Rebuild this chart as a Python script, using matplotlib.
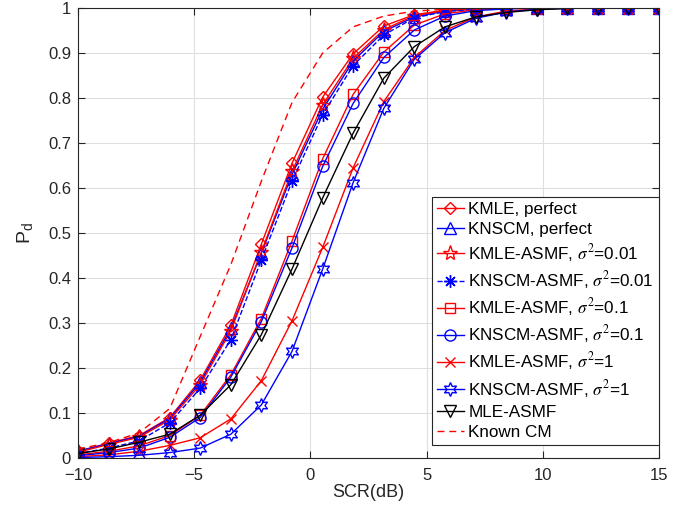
import matplotlib
matplotlib.use("Agg")
import matplotlib.pyplot as plt

plt.rcParams["font.family"] = ["Liberation Sans", "DejaVu Sans"]
plt.rcParams["mathtext.fontset"] = "stix"

# SCR (dB) sample points
scr = [-10, -8.68, -7.37, -6.05, -4.74, -3.42, -2.11, -0.79, 0.53, 1.84,
       3.16, 4.47, 5.79, 7.11, 8.42, 9.74, 11.05, 12.37, 13.68, 15]

kmle_perfect = [0.015, 0.033, 0.05, 0.09, 0.173, 0.295, 0.475, 0.655, 0.802, 0.898,
                0.96, 0.985, 0.995, 0.998, 0.999, 1, 1, 1, 1, 1]
knscm_perfect = [0.015, 0.032, 0.048, 0.088, 0.168, 0.288, 0.455, 0.63, 0.775, 0.882,
                 0.948, 0.98, 0.993, 0.998, 0.999, 1, 1, 1, 1, 1]
kmle_001 = [0.013, 0.03, 0.046, 0.085, 0.163, 0.283, 0.458, 0.637, 0.785, 0.888,
            0.952, 0.983, 0.994, 0.998, 0.999, 1, 1, 1, 1, 1]
knscm_001 = [0.01, 0.022, 0.038, 0.078, 0.155, 0.263, 0.44, 0.615, 0.763, 0.872,
             0.94, 0.978, 0.992, 0.997, 0.999, 1, 1, 1, 1, 1]
kmle_01 = [0.007, 0.015, 0.027, 0.05, 0.095, 0.185, 0.31, 0.482, 0.665, 0.808,
           0.902, 0.962, 0.987, 0.996, 0.999, 1, 1, 1, 1, 1]
knscm_01 = [0.005, 0.012, 0.022, 0.046, 0.09, 0.18, 0.303, 0.467, 0.648, 0.788,
            0.89, 0.951, 0.982, 0.994, 0.998, 1, 1, 1, 1, 1]
kmle_1 = [0.003, 0.007, 0.015, 0.028, 0.045, 0.087, 0.172, 0.305, 0.468, 0.645,
          0.792, 0.89, 0.95, 0.98, 0.993, 0.998, 1, 1, 1, 1]
knscm_1 = [0.001, 0.003, 0.006, 0.012, 0.022, 0.053, 0.118, 0.237, 0.42, 0.612,
           0.777, 0.886, 0.945, 0.977, 0.991, 0.997, 0.999, 1, 1, 1]
mle_asmf = [0.01, 0.02, 0.035, 0.053, 0.095, 0.163, 0.274, 0.42, 0.578, 0.722,
            0.844, 0.914, 0.958, 0.98, 0.99, 0.996, 0.999, 1, 1, 1]
known_cm = [0.02, 0.034, 0.056, 0.11, 0.27, 0.43, 0.615, 0.79, 0.9, 0.958,
            0.982, 0.993, 0.997, 0.999, 1, 1, 1, 1, 1, 1]

RED = (1, 0, 0)
BLUE = (0, 0, 1)

series = [
    (kmle_perfect, "KMLE, perfect", RED, "-", "D", 6.5),
    (knscm_perfect, "KNSCM, perfect", BLUE, "-", "^", 8),
    (kmle_001, r"KMLE-ASMF, $\sigma^2$=0.01", RED, "-", "*", 11),
    (knscm_001, r"KNSCM-ASMF, $\sigma^2$=0.01", BLUE, "--", (8, 2, 0), 9),
    (kmle_01, r"KMLE-ASMF, $\sigma^2$=0.1", RED, "-", "s", 7.5),
    (knscm_01, r"KNSCM-ASMF, $\sigma^2$=0.1", BLUE, "-", "o", 8),
    (kmle_1, r"KMLE-ASMF, $\sigma^2$=1", RED, "-", "x", 7.5),
    (knscm_1, r"KNSCM-ASMF, $\sigma^2$=1", BLUE, "-", (6, 1, 0), 10),
    (mle_asmf, "MLE-ASMF", "black", "-", "v", 9),
]

fig = plt.figure(figsize=(6.98, 5.18), dpi=100)
ax = fig.add_axes([0.1117, 0.1158, 0.8324, 0.8688])

for vals, label, color, ls, marker, ms in series:
    ax.plot(scr, vals, linestyle=ls, color=color, marker=marker, markersize=ms,
            markerfacecolor="none", markeredgecolor=color, markeredgewidth=1.0,
            linewidth=1.0, label=label)
ax.plot(scr, known_cm, linestyle=(0, (5, 3.5)), color=RED, linewidth=1.0, label="Known CM")

ax.set_xlim(-10, 15)
ax.set_ylim(0, 1)
ax.set_xticks([-10, -5, 0, 5, 10, 15])
ax.set_yticks([i / 10 for i in range(11)])
ax.set_yticklabels(["0", "0.1", "0.2", "0.3", "0.4", "0.5", "0.6", "0.7", "0.8", "0.9", "1"])

ax.grid(True, color="#dfdfdf", linewidth=0.8)
ax.set_axisbelow(True)
for s in ax.spines.values():
    s.set_color("#262626")
    s.set_linewidth(0.8)
ax.tick_params(direction="in", top=True, right=True, length=5, width=0.8,
               colors="#262626", labelsize=12, pad=5)
ax.tick_params(axis="x", pad=7)

ax.set_xlabel("SCR(dB)", fontsize=13, color="#262626", labelpad=1)
ax.set_ylabel(r"$\mathregular{P_d}$", fontsize=14, color="#262626", labelpad=9)

leg = ax.legend(loc="lower right", bbox_to_anchor=(1.0, 0.029), borderaxespad=0,
                fontsize=12.3, handlelength=1.6, handletextpad=0.25, labelspacing=0.30,
                borderpad=0.3, fancybox=False, framealpha=1, edgecolor="#262626")
leg.get_frame().set_linewidth(0.8)

fig.savefig("out.png", dpi=100)
